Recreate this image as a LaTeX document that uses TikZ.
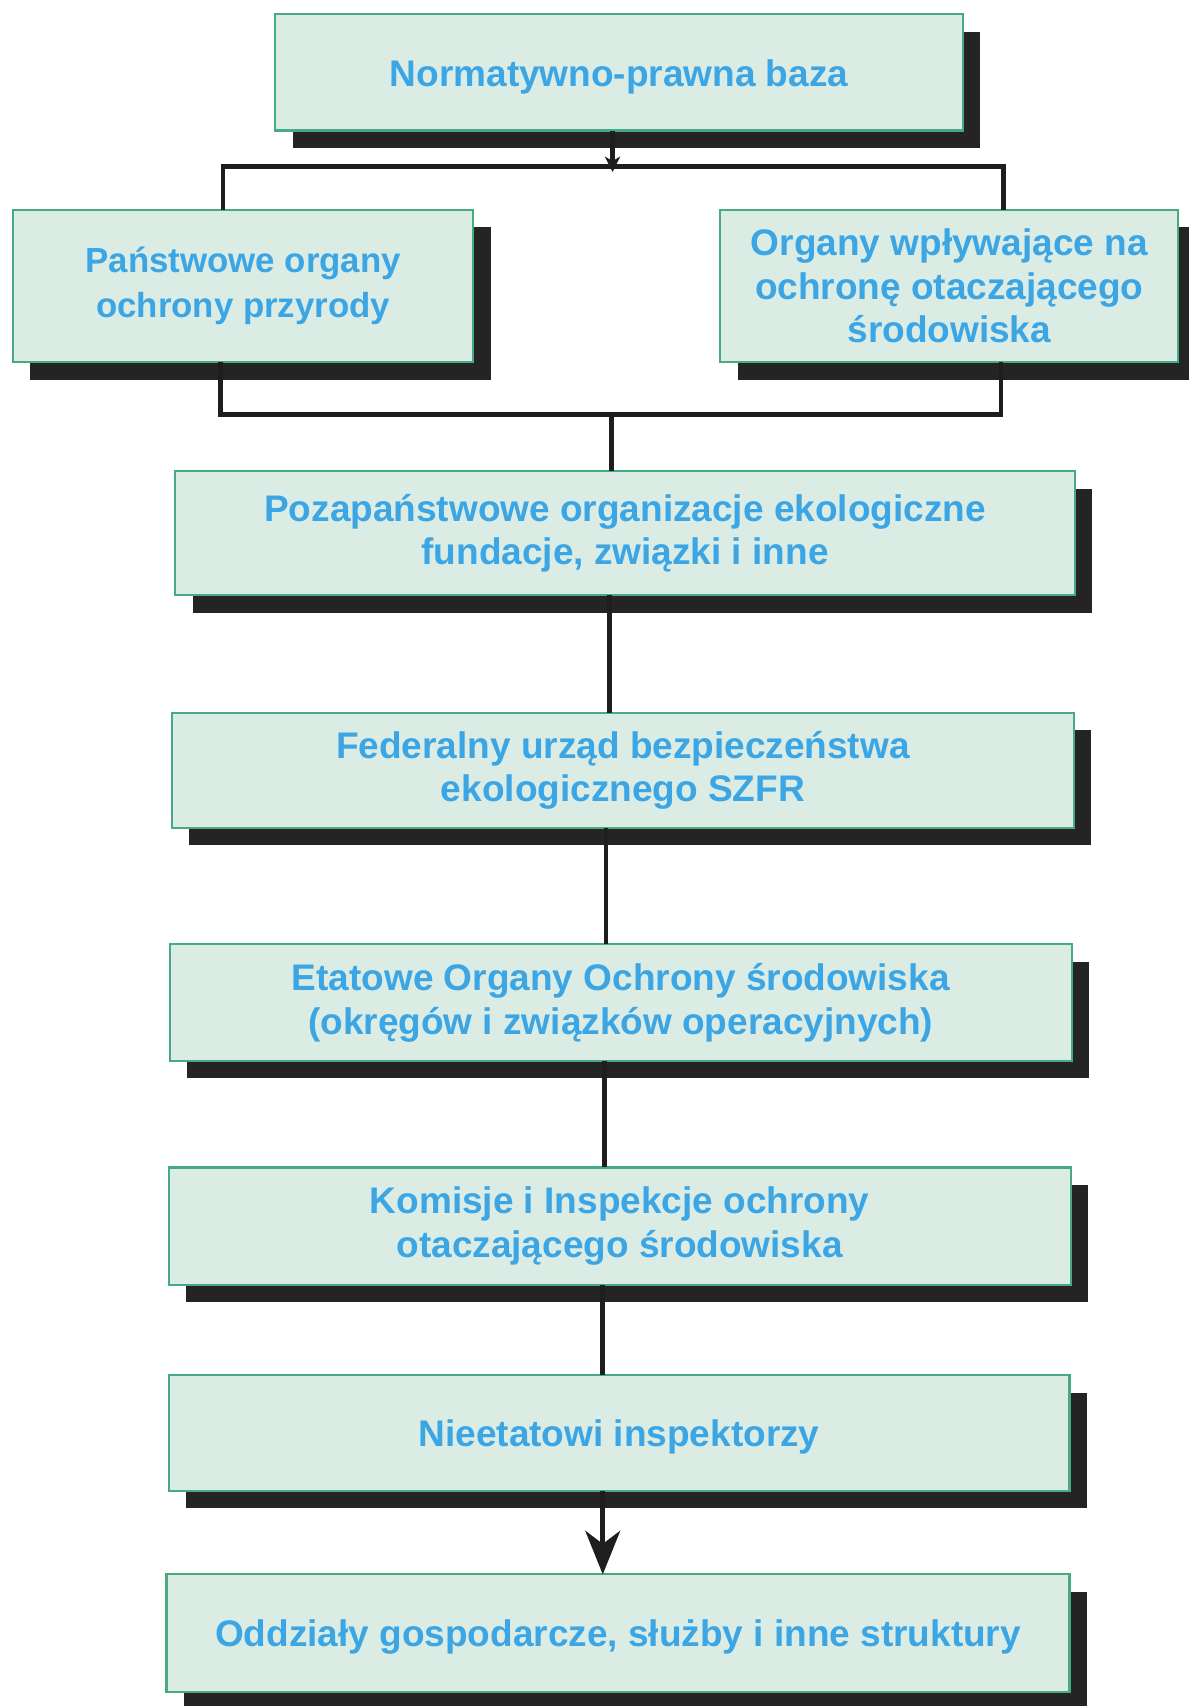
\documentclass[tikz,border=0pt]{standalone}
\usepackage{fontspec}
\setmainfont{Liberation Sans}
\usetikzlibrary{shadows,arrows.meta}
\definecolor{boxfill}{RGB}{218,236,228}
\definecolor{boxline}{RGB}{72,170,130}
\definecolor{txt}{RGB}{60,165,228}
\definecolor{shade}{RGB}{36,36,36}
\definecolor{linec}{RGB}{30,30,30}
\tikzset{
  box/.style={draw=boxline, line width=2pt, fill=boxfill, text=txt,
    align=center, inner sep=0pt, outer sep=0pt,
    font=\bfseries\fontsize{34}{40}\selectfont,
    general shadow={fill=shade, shadow xshift=16pt, shadow yshift=-16pt}},
  link/.style={draw=linec, line width=4.5pt},
  bigtip/.style={-{Stealth[length=40pt,width=32pt,inset=12pt]}},
  smalltip/.style={-{Stealth[length=14pt,width=14pt,inset=4pt]}}
}
% single-line labels sit a little below the box centre
\newcommand{\lowered}[1]{\raisebox{-4pt}[\height][\depth]{#1}}
\begin{document}
\begin{tikzpicture}[x=1pt,y=-1pt]
\useasboundingbox[fill=white] (0,0) rectangle (1092,1568);

% boxes
\node[box, minimum width=632, minimum height=107] (n1) at (569,66.5) {\lowered{Normatywno-prawna baza}};
\node[box, minimum width=423, minimum height=140, font=\bfseries\fontsize{32}{41}\selectfont] (n2) at (223.5,263) {Państwowe organy\\ochrony przyrody};
\node[box, minimum width=421, minimum height=140] (n3) at (872.5,263) {Organy wpływające na\\ochronę otaczającego\\środowiska};
\node[box, minimum width=827, minimum height=114] (n4) at (574.5,490) {Pozapaństwowe organizacje ekologiczne\\fundacje, związki i inne};
\node[box, minimum width=829, minimum height=106] (n5) at (572.5,708) {Federalny urząd bezpieczeństwa\\ekologicznego SZFR};
\node[box, minimum width=829, minimum height=107] (n6) at (570.5,921.5) {Etatowe Organy Ochrony środowiska\\(okręgów i związków operacyjnych)};
\node[box, minimum width=829, minimum height=108] (n7) at (569.5,1127) {Komisje i Inspekcje ochrony\\otaczającego środowiska};
\node[box, minimum width=828, minimum height=106] (n8) at (569,1317) {\lowered{Nieetatowi inspektorzy}};
\node[box, minimum width=830, minimum height=108] (n9) at (568,1501) {\lowered{Oddziały gospodarcze, służby i inne struktury}};

% upper branching
\coordinate (j1) at (563,153);
\coordinate (j1l) at (205,153);
\coordinate (j1r) at (922,153);
\coordinate (j2) at (562,381);
\coordinate (j2l) at (203,381);
\coordinate (j2r) at (920,381);

\draw[link] (j1l |- n2.north) -- (j1l) -- (j1r) -- (j1r |- n3.north);
\draw[link, smalltip] (n1.south -| j1) -- ([yshift=-5pt]j1);
\draw[link] (n2.south -| j2l) -- (j2l) -- (j2r) -- (n3.south -| j2r);
\draw[link] (j2) -- (n4.north -| j2);

% vertical chain
\draw[link] ([xshift=-14.5pt]n4.south) -- ([xshift=-12.5pt]n5.north);
\draw[link] ([xshift=-15.5pt]n5.south) -- ([xshift=-13.5pt]n6.north);
\draw[link] ([xshift=-14.5pt]n6.south) -- ([xshift=-13.5pt]n7.north);
\draw[link] ([xshift=-15.5pt]n7.south) -- ([xshift=-15pt]n8.north);
\draw[link, bigtip] ([xshift=-15pt]n8.south) -- ([xshift=-14pt]n9.north);
\end{tikzpicture}
\end{document}
